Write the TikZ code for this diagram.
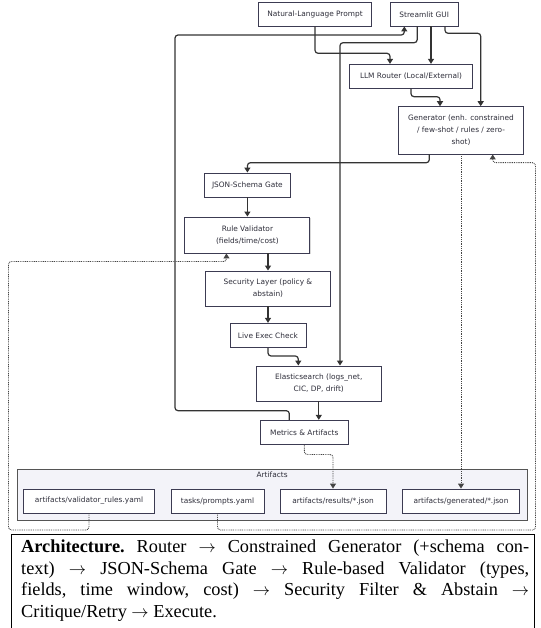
\documentclass[tikz,border=0pt]{standalone}
\usepackage{fontspec}
\setmainfont{Liberation Serif}
\newfontfamily\nodefont{DejaVu Sans}
\usetikzlibrary{arrows.meta,shadows}

\definecolor{boxline}{HTML}{3C3B52}
\definecolor{txt}{HTML}{2E2E3A}
\definecolor{wire}{HTML}{333333}
\definecolor{dotwire}{HTML}{444444}
\definecolor{groupfill}{HTML}{F3F3F9}
\definecolor{groupline}{HTML}{555555}

\tikzset{
  box/.style={draw=boxline, fill=white, line width=0.9pt, text=txt,
    font=\nodefont\fontsize{7.4}{11.7}\selectfont, align=center, inner sep=0pt,
    minimum height=24pt,
    drop shadow={shadow xshift=0.7pt, shadow yshift=-0.7pt, fill=black, opacity=0.15}},
  flow/.style={draw=wire, line width=1.2pt, rounded corners=3pt,
    -{Triangle[length=5pt,width=6pt]}},
  weak/.style={draw=dotwire, line width=0.9pt, dash pattern=on 0.9pt off 0.9pt,
    rounded corners=3pt, -{Triangle[length=5pt,width=6pt]}},
}

\begin{document}
\begin{tikzpicture}[x=1pt,y=-1pt]
\useasboundingbox (0,0) rectangle (540,628);

% artifacts group
\node[draw=groupline, fill=groupfill, line width=0.9pt, minimum width=509.8pt,
  minimum height=51.7pt, inner sep=0pt] (grp) at (272.1,494.85) {};
\node[text=txt, font=\nodefont\fontsize{7.4}{9}\selectfont] (grplabel) at (272.1,475) {Artifacts};

% main nodes
\node[box, minimum width=113.4pt, minimum height=23.3pt] (prompt) at (315,14.35) {Natural-Language Prompt};
\node[box, minimum width=68.5pt, minimum height=23.3pt] (gui) at (424.2,14.35) {Streamlit GUI};
\node[box, minimum width=123.4pt] (router) at (411,76.3) {LLM Router (Local/External)};
\node[box, minimum width=125.2pt, minimum height=47.3pt] (gen) at (461,130.35)
  {Generator (enh. constrained\\/ few-shot / rules / zero-\\shot)};
\node[box, minimum width=86.7pt] (json) at (247.4,185) {JSON-Schema Gate};
\node[box, minimum width=125pt, minimum height=36pt] (rv) at (247.4,235) {Rule Validator\\(fields/time/cost)};
\node[box, minimum width=125.5pt, minimum height=35pt] (sec) at (268,288.5) {Security Layer (policy \&\\abstain)};
\node[box, minimum width=76pt] (live) at (268,335.3) {Live Exec Check};
\node[box, minimum width=125.7pt, minimum height=35pt] (es) at (318.8,383.5) {Elasticsearch (logs\_net,\\CIC, DP, drift)};
\node[box, minimum width=88.7pt] (metrics) at (304.3,432.3) {Metrics \& Artifacts};

% file nodes inside the group
\node[box, minimum width=131pt] (vrules) at (89,501) {artifacts/validator\_rules.yaml};
\node[box, minimum width=93pt] (tprompts) at (217.5,501) {tasks/prompts.yaml};
\node[box, minimum width=106pt] (results) at (333,501) {artifacts/results/*.json};
\node[box, minimum width=117.2pt] (generated) at (461,501) {artifacts/generated/*.json};

% solid flow
\draw[flow] (prompt.south) |- (390,53.3) -- ([xshift=-21pt]router.north);
\draw[flow] ([xshift=6.8pt]gui.south) -- ([xshift=20pt]router.north);
\draw[flow] ([xshift=20.8pt]gui.south) |- (480.7,33.3) -- ([xshift=19.7pt]gen.north);
\draw[flow] (router.south) |- (440,96.7) -- ([xshift=-21pt]gen.north);
\draw[flow] ([xshift=-7pt]gui.south) |- (340,42.7) -- ([xshift=21.2pt]es.north);
\draw[flow] ([xshift=-15pt]metrics.north) |- (175,410.7) |- (404.3,35) -- ([xshift=-19.9pt]gui.south);
\draw[flow] ([xshift=-31.7pt]gen.south) |- (247.4,162.7) -- (json.north);
\draw[flow] (json.south) -- (rv.north);
\draw[flow] ([xshift=20.6pt]rv.south) -- (sec.north);
\draw[flow] (sec.south) -- (live.north);
\draw[flow] (live.south) |- (298.3,356) -- ([xshift=-20.5pt]es.north);
\draw[flow] (es.south) -- (es.south |- metrics.north);

% dotted flow
\draw[weak] (metrics.south) |- (333,454.5) -- (results.north);
\draw[weak] (gen.south) -- (generated.north);
\draw[weak] (vrules.south) |- (8.5,530) |- (226.5,261.5) -- ([xshift=-21pt]rv.south);
\draw[weak] (tprompts.south) |- (535.5,530) |- (492.7,162.7) -- ([xshift=31.7pt]gen.south);

% caption
\draw[line width=0.9pt, black] (11.5,640) -- (11.5,534.3) -- (534,534.3) -- (534,640);
\node[anchor=north west, inner sep=0pt, text width=508pt, align=justify,
  font=\fontsize{18.3}{21.6}\selectfont\frenchspacing] (caption) at (21,539.5)
  {\textbf{Architecture.} Router $\rightarrow$ Constrained Generator (+schema con-\linebreak
   text) $\rightarrow$ JSON-Schema Gate $\rightarrow$ Rule-based Validator (types,\linebreak
   fields, time window, cost) $\rightarrow$ Security Filter \& Abstain $\rightarrow$\linebreak
   Critique/Retry $\rightarrow$ Execute.};
\end{tikzpicture}
\end{document}
